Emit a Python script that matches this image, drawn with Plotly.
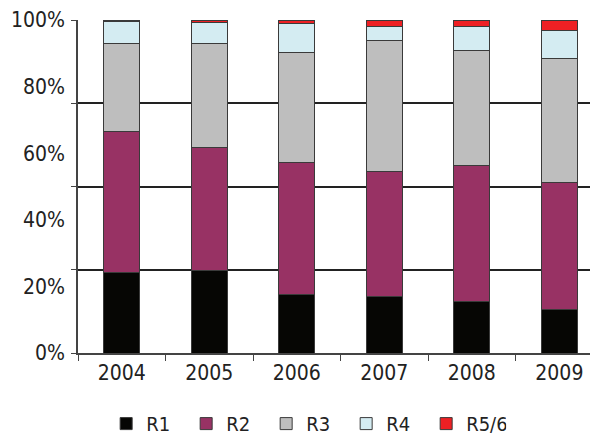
import plotly.graph_objects as go

years = ["2004", "2005", "2006", "2007", "2008", "2009"]
r1 = [24.1, 24.9, 17.6, 17.1, 15.4, 13.2]
r2 = [42.3, 36.7, 39.5, 37.3, 40.8, 37.9]
r3 = [26.4, 31.2, 33.2, 39.3, 34.5, 37.4]
r4 = [6.7, 6.6, 8.7, 4.3, 7.3, 8.2]
r56 = [0.5, 0.6, 1.0, 2.0, 2.0, 3.3]

series_names = ["R1", "R2", "R3", "R4", "R5/6"]
series_values = [r1, r2, r3, r4, r56]
series_colors = ["#060604", "#983264", "#bebebe", "#d4ecf2", "#ee2024"]

label_ticks = [0, 20, 40, 60, 80, 100]
label_text = ["0%", "20%", "40%", "60%", "80%", "100%"]
grid_ticks = [0, 25, 50, 75, 100]

FONT = "DejaVu Sans Condensed, Liberation Sans, sans-serif"

fig = go.Figure()
for name, vals, col in zip(series_names, series_values, series_colors):
    fig.add_trace(go.Bar(
        x=years, y=vals, name=name,
        marker=dict(color=col, line=dict(color="#3a3a3a", width=1)),
        width=0.41,
    ))

# invisible helper so the label axis is drawn
fig.add_trace(go.Scatter(x=years, y=r1, yaxis="y2", mode="markers",
                         marker=dict(opacity=0), showlegend=False, hoverinfo="skip"))

fig.update_layout(
    barmode="stack",
    width=590, height=437,
    margin=dict(l=78, r=0, t=20, b=84, autoexpand=False),
    paper_bgcolor="white", plot_bgcolor="white",
    font=dict(family=FONT, size=21, color="#222222"),
    showlegend=True,
    legend=dict(
        orientation="h", x=0.055, xanchor="left", y=-0.212, yanchor="middle",
        font=dict(family=FONT, size=20, color="#222222"),
        traceorder="normal", itemclick=False, entrywidth=35,
    ),
    xaxis=dict(
        range=[-0.5, 5.35], showgrid=False, showline=True, linecolor="#444444", linewidth=1.5,
        ticks="outside", tickson="boundaries", ticklen=6, tickcolor="#444444",
        tickfont=dict(family=FONT, size=21, color="#222222"), automargin=False,
    ),
    yaxis=dict(
        range=[0, 100], tickvals=grid_ticks, showticklabels=False,
        showgrid=True, gridcolor="#222222", gridwidth=1.5,
        ticks="outside", ticklen=5, tickcolor="#444444",
        showline=True, linecolor="#444444", linewidth=1.5, zeroline=False, automargin=False,
    ),
    yaxis2=dict(
        range=[0, 100], overlaying="y", side="left", anchor="x",
        tickvals=label_ticks, ticktext=label_text, showgrid=False, zeroline=False,
        ticks="", ticklabelstandoff=12, showline=False, automargin=False,
        tickfont=dict(family=FONT, size=21, color="#222222"),
    ),
)

fig.write_html("out.html")
